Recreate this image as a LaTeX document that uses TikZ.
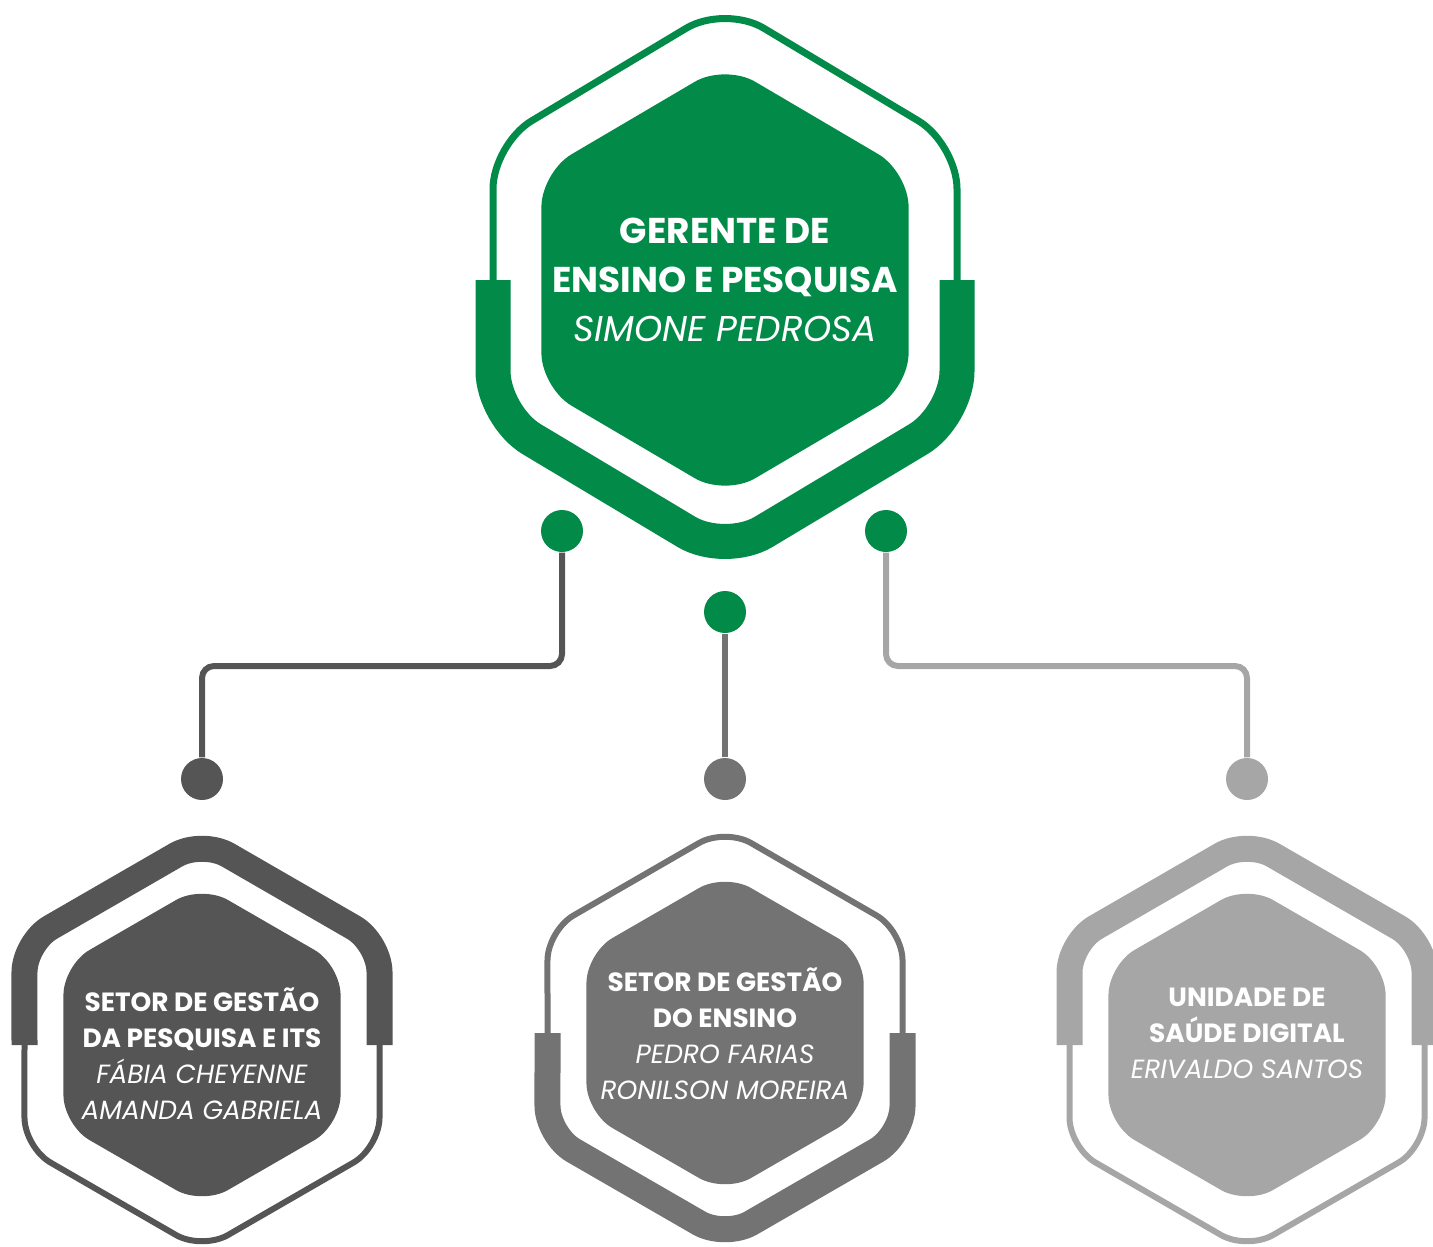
\documentclass[tikz,border=0pt]{standalone}
\usepackage{fontspec}
\setmainfont{Poppins}
\usepackage{xcolor}

\definecolor{verde}{RGB}{2,139,72}
\definecolor{cinzaA}{RGB}{85,85,85}
\definecolor{cinzaB}{RGB}{115,115,115}
\definecolor{cinzaC}{RGB}{166,166,166}

\tikzset{
	bolinha/.style={circle,inner sep=0pt,minimum size=0.42cm,fill=#1},
	ligacao/.style={#1,line width=0.06cm,rounded corners=0.12cm},
	fina/.style={line width=0.06cm,rounded corners=0.3cm},
	grossa/.style={line width=0.26cm,rounded corners=0.3cm},
	titulo/.style={align=center,text=white,inner sep=0pt,font=\fontsize{7.5}{10.24}\selectfont},
}

\begin{document}
\begin{tikzpicture}
		\useasboundingbox (0,0) rectangle (14.33,12.46);
		
		\coordinate (gerente) at (7.25,9.66);
		\coordinate (pesquisa) at (2.02,2.01);
		\coordinate (ensino) at (7.25,2.13);
		\coordinate (saude) at (12.47,2.01);
		\coordinate (nivel) at (0,5.80);
		
		% hexagono do topo
		\begin{scope}[shift={(gerente)}]
			\draw[verde,line width=0.07cm,rounded corners=0.45cm] (-2.32,0) -- (-2.32,1.36) -- (0,2.75) -- (2.32,1.36) -- (2.32,0);
			\draw[verde,line width=0.35cm,rounded corners=0.45cm] (-2.32,0) -- (-2.32,-1.36) -- (0,-2.75) -- (2.32,-1.36) -- (2.32,0);
			\fill[verde,rounded corners=0.35cm] (1.836,0) -- (1.836,1.08) -- (0,2.16) -- (-1.836,1.08) -- (-1.836,-1.08) -- (0,-2.16) -- (1.836,-1.08) -- cycle;
		\end{scope}
		
		% hexagonos de baixo
		\foreach \c/\cor/\s in {pesquisa/cinzaA/1,ensino/cinzaB/-1,saude/cinzaC/1}
		{
			\begin{scope}[shift={(\c)},yscale=\s]
				\draw[\cor,fina] (-1.775,0) -- (210:2.05) -- (270:2.05) -- (330:2.05) -- (1.775,0);
				\draw[\cor,grossa] (-1.775,0) -- (150:2.05) -- (90:2.05) -- (30:2.05) -- (1.775,0);
				\fill[\cor,rounded corners=0.3cm] (1.386,0) -- (30:1.6) -- (90:1.6) -- (150:1.6) -- (210:1.6) -- (270:1.6) -- (330:1.6) -- cycle;
			\end{scope}
		}
		
		\node[bolinha=verde] (p1) at (5.62,7.15) {};
		\node[bolinha=verde] (p2) at (7.25,6.34) {};
		\node[bolinha=verde] (p3) at (8.86,7.15) {};
		\node[bolinha=cinzaA] (q1) at (2.02,4.67) {};
		\node[bolinha=cinzaB] (q2) at (7.25,4.67) {};
		\node[bolinha=cinzaC] (q3) at (12.47,4.67) {};
		
		\draw[ligacao=cinzaA] (p1.south) -- (p1 |- nivel) -- (q1 |- nivel) -- (q1.north);
		\draw[ligacao=cinzaB] (p2) -- (q2);
		\draw[ligacao=cinzaC] (p3.south) -- (p3 |- nivel) -- (q3 |- nivel) -- (q3.north);
		
		\node[titulo,font=\fontsize{10.2}{13.94}\selectfont] (txtgerente) at (gerente) {\textbf{GERENTE DE}\\\textbf{ENSINO E PESQUISA}\\\textit{SIMONE PEDROSA}};
		\node[titulo,yshift=-0.09cm] (txtpesquisa) at (pesquisa) {\textbf{SETOR DE GESTÃO}\\\textbf{DA PESQUISA E ITS}\\\textit{FÁBIA CHEYENNE}\\\textit{AMANDA GABRIELA}};
		\node[titulo,yshift=-0.01cm] (txtensino) at (ensino) {\textbf{SETOR DE GESTÃO}\\\textbf{DO ENSINO}\\\textit{PEDRO FARIAS}\\\textit{RONILSON MOREIRA}};
		\node[titulo,yshift=0.12cm] (txtsaude) at (saude) {\textbf{UNIDADE DE}\\\textbf{SAÚDE DIGITAL}\\\textit{ERIVALDO SANTOS}};
		
	\end{tikzpicture}
\end{document}
